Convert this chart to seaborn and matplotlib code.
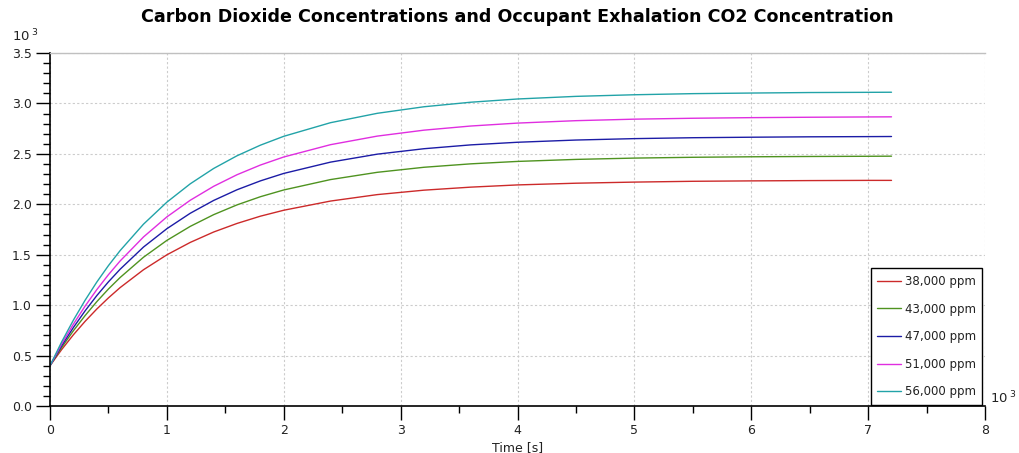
import matplotlib
matplotlib.use("Agg")
import matplotlib.pyplot as plt
import seaborn as sns
import pandas as pd
from matplotlib.ticker import MultipleLocator, FormatStrFormatter

# Time in thousands of seconds
time_k = [0, 0.1, 0.2, 0.3, 0.4, 0.5, 0.6, 0.8, 1.0, 1.2, 1.4, 1.6, 1.8, 2.0,
          2.4, 2.8, 3.2, 3.6, 4.0, 4.5, 5.0, 5.5, 6.0, 6.5, 7.0, 7.2]

# CO2 concentration in thousands of ppm
c38 = [0.400, 0.560, 0.706, 0.839, 0.961, 1.072, 1.174, 1.351, 1.499, 1.622, 1.725, 1.810, 1.882, 1.941,
       2.032, 2.096, 2.140, 2.170, 2.192, 2.209, 2.220, 2.228, 2.232, 2.235, 2.237, 2.237]
c43 = [0.400, 0.581, 0.746, 0.896, 1.034, 1.160, 1.274, 1.475, 1.642, 1.781, 1.897, 1.994, 2.075, 2.142,
       2.245, 2.317, 2.367, 2.401, 2.425, 2.445, 2.458, 2.466, 2.471, 2.474, 2.476, 2.477]
c47 = [0.400, 0.598, 0.778, 0.943, 1.094, 1.231, 1.356, 1.576, 1.758, 1.911, 2.038, 2.144, 2.232, 2.306,
       2.418, 2.497, 2.551, 2.589, 2.615, 2.637, 2.651, 2.660, 2.665, 2.669, 2.671, 2.672]
c51 = [0.400, 0.615, 0.811, 0.990, 1.153, 1.302, 1.438, 1.676, 1.875, 2.040, 2.178, 2.293, 2.389, 2.469,
       2.591, 2.676, 2.735, 2.776, 2.805, 2.829, 2.844, 2.853, 2.859, 2.863, 2.866, 2.867]
c56 = [0.400, 0.636, 0.851, 1.048, 1.228, 1.392, 1.541, 1.803, 2.021, 2.203, 2.355, 2.481, 2.586, 2.674,
       2.809, 2.902, 2.967, 3.012, 3.044, 3.070, 3.086, 3.097, 3.103, 3.108, 3.110, 3.111]

series_names = ["38,000 ppm", "43,000 ppm", "47,000 ppm", "51,000 ppm", "56,000 ppm"]
series_values = [c38, c43, c47, c51, c56]
colors = ["#cc2a2a", "#4f9320", "#1c1ca6", "#e02ee0", "#22a3a8"]

rows = []
for name, vals in zip(series_names, series_values):
    for t, v in zip(time_k, vals):
        rows.append({"Time": t, "CO2": v, "Series": name})
df = pd.DataFrame(rows)

sns.set_style("white")
plt.rcParams['font.family'] = ['DejaVu Sans']

fig = plt.figure(figsize=(10.19, 4.53), dpi=100)
ax = fig.add_axes([50/1019, 47/453, 935/1019, 353/453])

sns.lineplot(data=df, x="Time", y="CO2", hue="Series", hue_order=series_names,
             palette=colors, linewidth=1.0, ax=ax, sort=False)

ax.set_xlim(0, 8)
ax.set_ylim(0, 3.5)
ax.xaxis.set_major_locator(MultipleLocator(1))
ax.xaxis.set_minor_locator(MultipleLocator(0.5))
ax.yaxis.set_major_locator(MultipleLocator(0.5))
ax.yaxis.set_minor_locator(MultipleLocator(0.1))
ax.yaxis.set_major_formatter(FormatStrFormatter("%.1f"))
ax.xaxis.set_major_formatter(FormatStrFormatter("%d"))

ax.grid(True, which="major", color="#cccccc", linestyle=(0, (2, 2)), linewidth=0.8)
ax.tick_params(axis="both", which="both", bottom=True, left=True, top=False, right=False)
ax.tick_params(axis="both", which="major", direction="out", length=10, width=1,
               labelsize=9, color="black", labelcolor="#222222", pad=3)
ax.tick_params(axis="both", which="minor", direction="out", length=5, width=1, color="black")

for s in ["left", "bottom"]:
    ax.spines[s].set_color("black")
    ax.spines[s].set_linewidth(1.2)
ax.spines["top"].set_color("#c0c0c0")
ax.spines["top"].set_linewidth(1.0)
ax.spines["right"].set_visible(False)

ax.set_xlabel("Time [s]", fontsize=9, color="#222222", labelpad=3)
ax.set_ylabel("")

leg = ax.legend(loc="lower right", bbox_to_anchor=(0.997, 0.003), fontsize=8.5,
                frameon=True, fancybox=False, edgecolor="black", framealpha=1,
                handlelength=2.0, labelspacing=1.24, borderpad=0.55, handletextpad=0.3,
                borderaxespad=0)
leg.get_frame().set_linewidth(1.0)
for txt in leg.get_texts():
    txt.set_color("#222222")

fig.text(0.508, 1 - 17/453, "Carbon Dioxide Concentrations and Occupant Exhalation CO2 Concentration",
         ha="center", va="center", fontsize=12.6, fontweight="bold", color="black")

fig.text(12/1019, 1 - 36/453, "10$^{\\ 3}$", ha="left", va="center", fontsize=9.5, color="#222222")
fig.text(990/1019, 1 - 398/453, "10$^{\\ 3}$", ha="left", va="center", fontsize=9.5, color="#222222")

fig.savefig("out.png", dpi=100)
